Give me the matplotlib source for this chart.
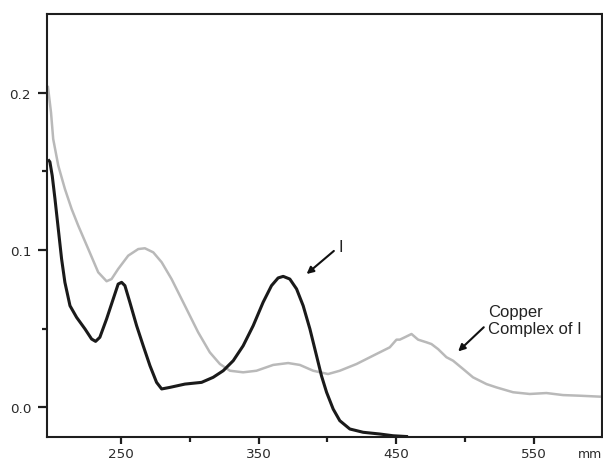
import matplotlib.pyplot as plt
from matplotlib.ticker import FixedLocator

plt.rcParams['font.family'] = ['Liberation Sans', 'DejaVu Sans']

# UV-Vis spectrum of compound I (black)
ligand_nm = [197.7, 198.4, 200.1, 202.1, 204.5, 206.9, 209.3, 213.0, 217.8, 223.9,
             228.7, 231.6, 234.7, 239.6, 244.4, 248.0, 250.5, 252.9, 256.5, 261.4,
             266.2, 271.1, 275.9, 279.6, 285.6, 296.5, 308.6, 317.0, 324.3, 331.6,
             338.8, 346.1, 353.3, 359.4, 364.2, 367.9, 372.7, 377.6, 382.4, 387.3,
             392.1, 395.7, 399.4, 404.2, 409.0, 416.3, 426.0, 438.1, 447.7, 457.5]
ligand_abs = [0.1569, 0.1561, 0.1473, 0.1325, 0.1134, 0.0943, 0.0794, 0.0645, 0.0571, 0.0497,
              0.0433, 0.0418, 0.0444, 0.0561, 0.0688, 0.0783, 0.0794, 0.0773, 0.0667, 0.0518,
              0.0390, 0.0263, 0.0157, 0.0115, 0.0125, 0.0146, 0.0157, 0.0189, 0.0231, 0.0295,
              0.0390, 0.0518, 0.0667, 0.0773, 0.0822, 0.0832, 0.0815, 0.0752, 0.0645, 0.0497,
              0.0327, 0.0199, 0.0094, -0.0013, -0.0087, -0.0140, -0.0161, -0.0172, -0.0183, -0.0188]

# spectrum of the copper complex of I (grey)
copper_nm = [197.0, 199.2, 200.8, 204.5, 209.3, 214.2, 219.0, 226.3, 233.5, 239.6,
             243.2, 248.0, 255.3, 262.6, 267.4, 273.5, 279.6, 286.8, 296.5, 306.1,
             314.6, 321.9, 329.2, 338.8, 348.5, 360.6, 371.5, 380.0, 389.7, 400.5,
             409.0, 421.2, 433.2, 445.3, 450.2, 452.6, 456.2, 461.1, 465.9, 472.0,
             475.6, 480.4, 486.5, 491.3, 498.6, 505.8, 515.6, 522.8, 534.9, 547.0,
             559.1, 571.2, 583.3, 597.8]
copper_abs = [0.2038, 0.1877, 0.1707, 0.1537, 0.1389, 0.1261, 0.1155, 0.1006, 0.0858, 0.0801,
              0.0815, 0.0879, 0.0964, 0.1006, 0.1011, 0.0985, 0.0922, 0.0815, 0.0645, 0.0476,
              0.0348, 0.0274, 0.0231, 0.0221, 0.0231, 0.0268, 0.0280, 0.0268, 0.0231, 0.0210,
              0.0231, 0.0274, 0.0327, 0.0380, 0.0429, 0.0429, 0.0444, 0.0465, 0.0429, 0.0412,
              0.0401, 0.0369, 0.0317, 0.0295, 0.0242, 0.0189, 0.0146, 0.0125, 0.0094, 0.0083,
              0.0089, 0.0076, 0.0072, 0.0066]

x_major = [250, 350, 450, 550]
x_minor = [300, 400, 500]
y_major = [0.0, 0.1, 0.2]
y_labels = ['0.0', '0.1', '0.2']
y_minor = [0.05, 0.15]

fig = plt.figure(figsize=(6.03, 4.60), dpi=100)
ax = fig.add_axes([47 / 603, 22 / 460, 555 / 603, 423 / 460])

ax.plot(copper_nm, copper_abs, color='#b9b9b9', lw=1.8, solid_joinstyle='round')
ax.plot(ligand_nm, ligand_abs, color='#1a1a1a', lw=2.2, solid_joinstyle='round')

ax.set_xlim(196.3, 599.5)
ax.set_ylim(-0.0191, 0.2503)

ax.xaxis.set_major_locator(FixedLocator(x_major))
ax.xaxis.set_minor_locator(FixedLocator(x_minor))
ax.yaxis.set_major_locator(FixedLocator(y_major))
ax.yaxis.set_minor_locator(FixedLocator(y_minor))
ax.set_yticklabels(y_labels)

for lab in ax.get_xticklabels() + ax.get_yticklabels():
    lab.set_fontfamily('DejaVu Sans')
    lab.set_fontsize(9.7)

ax.tick_params(axis='both', which='both', direction='out', width=1.6,
               color='#1e1e1e', labelcolor='#2a2a2a')
ax.tick_params(axis='x', which='major', length=5, pad=2)
ax.tick_params(axis='y', which='major', length=6.5, pad=5)
ax.tick_params(axis='both', which='minor', length=3.6)

for side in ax.spines.values():
    side.set_linewidth(1.5)
    side.set_color('#1e1e1e')

# labels with arrows pointing at the curves
arrow = dict(arrowstyle='-|>', color='#111111', lw=1.5, mutation_scale=10,
             shrinkA=0, shrinkB=0)
ax.annotate('', xy=(384.9, 0.0847), xytext=(404.7, 0.0994), arrowprops=arrow)
ax.text(408.0, 0.1025, 'I', fontsize=12, color='#222222', ha='left', va='center')

ax.annotate('', xy=(495.0, 0.0354), xytext=(513.6, 0.0508), arrowprops=arrow)
ax.text(516.5, 0.0656, 'Copper\nComplex of I', fontsize=12, color='#222222',
        ha='left', va='top', linespacing=1.2)

# unit label squeezed into the bottom-right corner
fig.text(578 / 603, 2 / 460, 'mm', family='DejaVu Sans', fontsize=9,
         color='#2a2a2a', ha='left', va='baseline')

fig.savefig('out.png', dpi=100)
